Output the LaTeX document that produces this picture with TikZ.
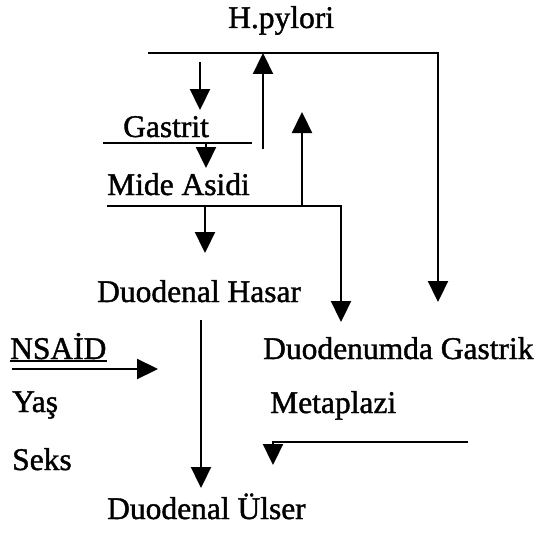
\documentclass[tikz,border=0pt]{standalone}
\usepackage{fontspec}
\setmainfont[FakeBold=1.3]{Liberation Serif}
\usetikzlibrary{arrows.meta}
\begin{document}
\begin{tikzpicture}[x=1pt,y=-1pt,
  lbl/.style={anchor=base west, inner sep=0pt, font=\fontsize{31.5}{36}\selectfont},
  conn/.style={line width=2.3pt},
  arr/.style={conn,-{Triangle[length=21pt,width=20pt]}},
  uline/.style={line width=1.8pt}]
\useasboundingbox (0,0) rectangle (538,535);
% texts
\node[lbl] (hp)   at (228,28)  {H.pylori};
\node[lbl] (gas)  at (123,137) {Gastrit};
\node[lbl] (mide) at (107,195) {Mide Asidi};
\node[lbl] (dh)   at (97,302)  {Duodenal Hasar};
\node[lbl] (nsaid) at (10,359) {NSAİD};
\node[lbl] (dg)   at (263,359) {Duodenumda Gastrik};
\node[lbl] (yas)  at (12,412)  {Yaş};
\node[lbl] (meta) at (270,413) {Metaplazi};
\node[lbl] (seks) at (12,470)  {Seks};
\node[lbl] (du)   at (107,519) {Duodenal Ülser};
% coordinates
\coordinate (tl) at (148,53);
\coordinate (tr) at (438,53);
\coordinate (tre) at (438,302);
\coordinate (a1s) at (200,62);
\coordinate (a1e) at (200,110);
\coordinate (u1s) at (263,149);
\coordinate (u1e) at (263,53);
\coordinate (gl) at (103,143);
\coordinate (gr) at (252,143);
\coordinate (g2s) at (206,143);
\coordinate (g2e) at (206,168);
\coordinate (ml) at (107,206);
\coordinate (mr) at (341,206);
\coordinate (mre) at (341,322);
\coordinate (u2s) at (302,206);
\coordinate (u2e) at (302,112);
\coordinate (m2s) at (205,206);
\coordinate (m2e) at (205,253);
\coordinate (ls) at (201,320);
\coordinate (le) at (201,488);
\coordinate (ns) at (12,369);
\coordinate (ne) at (158,369);
\coordinate (mtr) at (468,442);
\coordinate (mtl) at (273,442);
\coordinate (mte) at (273,465);
% connectors
\draw[arr] (tl) -- (tr) -- (tre);
\draw[arr] (a1s) -- (a1e);
\draw[arr] (u1s) -- (u1e);
\draw[conn] (gl) -- (gr);
\draw[arr] (g2s) -- (g2e);
\draw[arr] (ml) -- (mr) -- (mre);
\draw[arr] (u2s) -- (u2e);
\draw[arr] (m2s) -- (m2e);
\draw[arr] (ls) -- (le);
\draw[arr] (ns) -- (ne);
\draw[arr] (mtr) -- (mtl) -- (mte);
\draw[uline] ([yshift=-2pt]nsaid.base west) -- ([yshift=-2pt]nsaid.base east);
\end{tikzpicture}
\end{document}
